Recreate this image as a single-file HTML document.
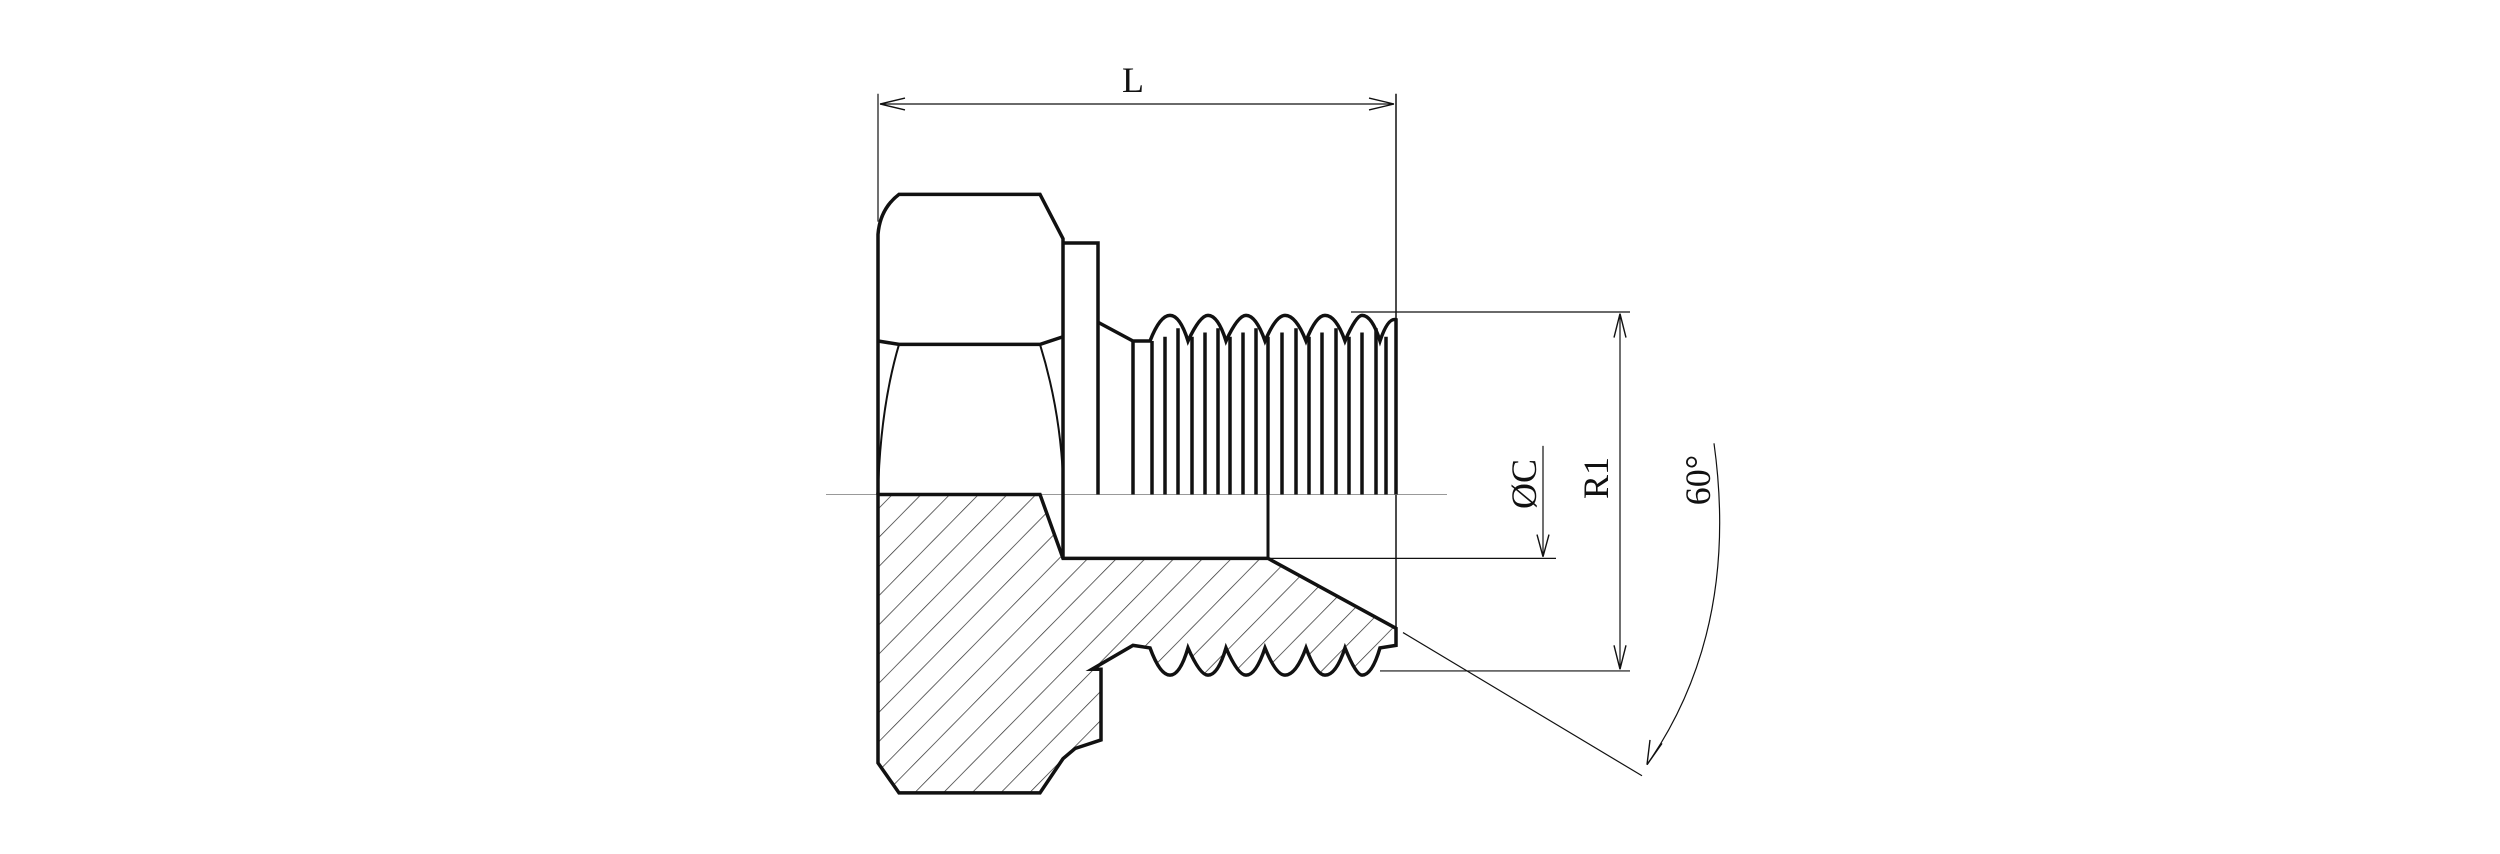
<!DOCTYPE html>
<html><head><style>html,body{margin:0;padding:0;background:#fff}svg{display:block}
g.s *{vector-effect:non-scaling-stroke}</style></head>
<body>
<svg width="2500" height="854" viewBox="0 0 2500 854" xmlns="http://www.w3.org/2000/svg">
<defs>
<pattern id="h" patternUnits="userSpaceOnUse" width="22" height="22" patternTransform="rotate(40)">
<line x1="0" y1="0" x2="0" y2="22" stroke="#333" stroke-width="1.6"/>
</pattern>
</defs>
<g class="s" fill="none" stroke="#111" transform="scale(1,0.8525)">
<line x1="878" y1="110" x2="878" y2="260" stroke-width="1.2"/>
<line x1="1396" y1="110" x2="1396" y2="740" stroke-width="1.5"/>
<line x1="880" y1="122" x2="1394" y2="122" stroke-width="1.2"/>
<path d="M880 122 L905 115 M880 122 L905 129 M1394 122 L1369 115 M1394 122 L1369 129" stroke-width="1.4"/>
<line x1="826" y1="580" x2="1447" y2="580" stroke="#999" stroke-width="1"/>
<path d="M878 580 L878 895 L899 930 L1040 930 L1063 890 L1075 878 L1101 868 L1101 785 L1092 785 L1133 757 L1150 760 Q1160 792 1170 792 Q1180 792 1188 760 Q1200 792 1208 792 Q1218 792 1226 760 Q1238 792 1246 792 Q1256 792 1265 760 Q1276 792 1285 792 Q1296 792 1306 760 Q1316 792 1325 792 Q1336 792 1345 760 Q1356 792 1362 792 Q1372 792 1380 760 L1396 757 L1396 737 L1268 655 L1063 655 L1040 580 Z" fill="url(#h)" stroke-width="3.5"/>
<path d="M878 580 L878 275 Q880 245 899 228 L1040 228 L1063 280 L1063 655" stroke-width="3.5"/>
<path d="M878 400 L899 404 L1040 404 L1063 395" stroke-width="3.5"/>
<path d="M899 404 Q880 480 878 580 M1040 404 Q1060 480 1063 560" stroke-width="2"/>
<path d="M1063 285 L1098 285 L1098 580" stroke-width="3.5"/>
<path d="M1098 378 L1133 400 L1150 400 Q1160 370 1170 370 Q1180 370 1188 400 Q1200 370 1208 370 Q1218 370 1226 400 Q1238 370 1246 370 Q1256 370 1265 400 Q1276 370 1285 370 Q1296 370 1306 400 Q1316 370 1325 370 Q1336 370 1345 400 Q1356 370 1362 370 Q1372 370 1380 400 Q1388 372 1396 375 L1396 580" stroke-width="3.5"/>
<g stroke-width="3.5">
<line x1="1133" y1="400" x2="1133" y2="580"/><line x1="1152" y1="400" x2="1152" y2="580"/>
<line x1="1165" y1="395" x2="1165" y2="580"/><line x1="1178" y1="385" x2="1178" y2="580"/>
<line x1="1192" y1="395" x2="1192" y2="580"/><line x1="1205" y1="390" x2="1205" y2="580"/>
<line x1="1218" y1="385" x2="1218" y2="580"/><line x1="1230" y1="395" x2="1230" y2="580"/>
<line x1="1243" y1="390" x2="1243" y2="580"/><line x1="1256" y1="385" x2="1256" y2="580"/>
<line x1="1268" y1="395" x2="1268" y2="580"/><line x1="1282" y1="390" x2="1282" y2="580"/>
<line x1="1296" y1="385" x2="1296" y2="580"/><line x1="1309" y1="395" x2="1309" y2="580"/>
<line x1="1322" y1="390" x2="1322" y2="580"/><line x1="1336" y1="385" x2="1336" y2="580"/>
<line x1="1349" y1="395" x2="1349" y2="580"/><line x1="1362" y1="390" x2="1362" y2="580"/>
<line x1="1376" y1="385" x2="1376" y2="580"/><line x1="1386" y1="395" x2="1386" y2="580"/>
</g>
<line x1="1268" y1="580" x2="1268" y2="655" stroke-width="3"/>
<line x1="1268" y1="655" x2="1556" y2="655" stroke-width="1.2"/>
<line x1="1351" y1="366" x2="1630" y2="366" stroke-width="1.2"/>
<line x1="1380" y1="787" x2="1630" y2="787" stroke-width="1.2"/>
<line x1="1620" y1="368" x2="1620" y2="785" stroke-width="1.2"/>
<path d="M1620 368 L1614 396 M1620 368 L1626 396 M1620 785 L1614 757 M1620 785 L1626 757" stroke-width="1.4"/>
<line x1="1543" y1="523" x2="1543" y2="653" stroke-width="1.2"/>
<path d="M1543 653 L1537 627 M1543 653 L1549 627" stroke-width="1.4"/>
<line x1="1403" y1="742" x2="1642" y2="910" stroke-width="1.2"/>
<path d="M1714 520 Q1740 740 1647 897" stroke-width="1.2"/>
<path d="M1647 897 L1650 868 M1647 897 L1662 872" stroke-width="1.4"/>
</g>
<g font-family="Liberation Serif, serif" fill="#111" font-size="36">
<text x="1133" y="92" text-anchor="middle">L</text>
<text transform="translate(1536,484) rotate(-90)" text-anchor="middle">ØC</text>
<text transform="translate(1608,478) rotate(-90)" text-anchor="middle">R1</text>
<text transform="translate(1710,480) rotate(-90)" text-anchor="middle">60°</text>
</g>
</svg>
</body></html>
